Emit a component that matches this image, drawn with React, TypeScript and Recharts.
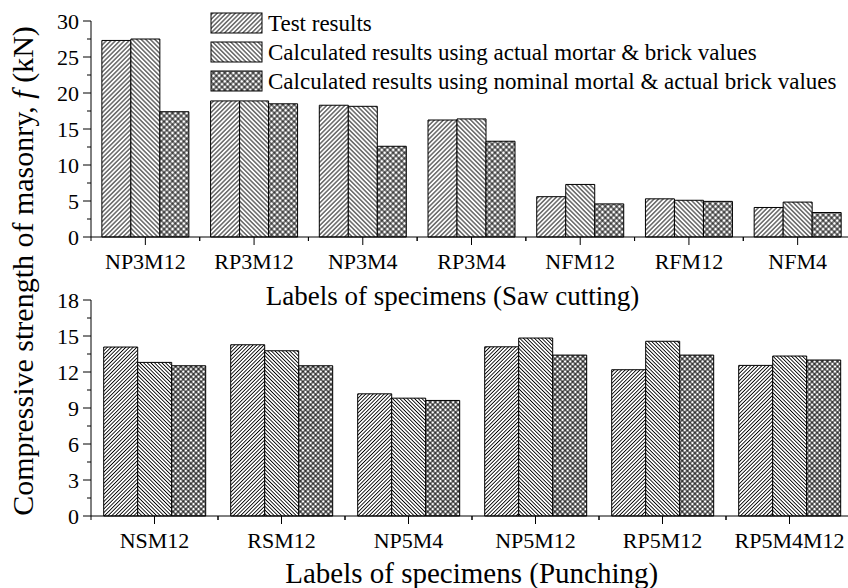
import React from 'react';
import { BarChart, Bar, XAxis, YAxis, Legend } from 'recharts';

const sawCategories = ['NP3M12', 'RP3M12', 'NP3M4', 'RP3M4', 'NFM12', 'RFM12', 'NFM4'];
const sawTest = [27.3, 18.9, 18.3, 16.25, 5.6, 5.3, 4.1];
const sawActual = [27.5, 18.9, 18.15, 16.4, 7.3, 5.1, 4.85];
const sawNominal = [17.4, 18.5, 12.6, 13.3, 4.6, 4.95, 3.4];
const sawTicks = [0, 2.5, 5, 7.5, 10, 12.5, 15, 17.5, 20, 22.5, 25, 27.5, 30];
const sawMajor = [0, 5, 10, 15, 20, 25, 30];

const punchCategories = ['NSM12', 'RSM12', 'NP5M4', 'NP5M12', 'RP5M12', 'RP5M4M12'];
const punchTest = [14.08, 14.27, 10.18, 14.1, 12.19, 12.55];
const punchActual = [12.8, 13.77, 9.82, 14.83, 14.56, 13.33];
const punchNominal = [12.52, 12.52, 9.63, 13.41, 13.41, 13.0];
const punchTicks = [0, 1.5, 3, 4.5, 6, 7.5, 9, 10.5, 12, 13.5, 15, 16.5, 18];
const punchMajor = [0, 3, 6, 9, 12, 15, 18];

const seriesNames = [
  'Test results',
  'Calculated results using actual mortar & brick values',
  'Calculated results using nominal mortal & actual brick values',
];
const patternKeys = ['fwd', 'back', 'cross'];

const sawData = sawCategories.map((c, i) => ({
  name: c,
  test: sawTest[i],
  actual: sawActual[i],
  nominal: sawNominal[i],
}));
const punchData = punchCategories.map((c, i) => ({
  name: c,
  test: punchTest[i],
  actual: punchActual[i],
  nominal: punchNominal[i],
}));

const FONT = '"Liberation Serif", "Times New Roman", Times, serif';

const Patterns = ({ prefix, s, c }: { prefix: string; s: number; c: number }) => (
  <defs>
    <pattern id={`${prefix}-fwd`} patternUnits="userSpaceOnUse" width={s} height={s} patternTransform="rotate(45)">
      <rect width={s} height={s} fill="#fff" />
      <line x1={s / 2} y1={0} x2={s / 2} y2={s} stroke="#000" strokeWidth={0.9} />
    </pattern>
    <pattern id={`${prefix}-back`} patternUnits="userSpaceOnUse" width={s} height={s} patternTransform="rotate(-45)">
      <rect width={s} height={s} fill="#fff" />
      <line x1={s / 2} y1={0} x2={s / 2} y2={s} stroke="#000" strokeWidth={0.9} />
    </pattern>
    <pattern id={`${prefix}-cross`} patternUnits="userSpaceOnUse" width={c} height={c} patternTransform="rotate(45)">
      <rect width={c} height={c} fill="#fff" />
      <line x1={c / 2} y1={0} x2={c / 2} y2={c} stroke="#000" strokeWidth={1} />
      <line x1={0} y1={c / 2} x2={c} y2={c / 2} stroke="#000" strokeWidth={1} />
    </pattern>
  </defs>
);

const TICK_SIZE = 8;
const TICK_MARGIN = 8;
const Y_TICK_SIZE = 8;
const Y_TICK_MARGIN = 4;

const makeXTick = (bandWidth: number) => (props: any) => {
  const { x, y, payload } = props;
  const axisY = y - TICK_SIZE - TICK_MARGIN;
  return (
    <g>
      <line x1={x} y1={axisY} x2={x} y2={axisY + TICK_SIZE} stroke="#000" strokeWidth={1} />
      <line x1={x - bandWidth / 2} y1={axisY} x2={x - bandWidth / 2} y2={axisY + 4} stroke="#000" strokeWidth={1} />
      <line x1={x + bandWidth / 2} y1={axisY} x2={x + bandWidth / 2} y2={axisY + 4} stroke="#000" strokeWidth={1} />
      <text x={x} y={y} dy="0.71em" textAnchor="middle" fontSize={22} fontFamily={FONT} fill="#000">
        {payload.value}
      </text>
    </g>
  );
};

const makeYTick = (major: number[]) => (props: any) => {
  const { x, y, payload } = props;
  const axisX = x + Y_TICK_SIZE + Y_TICK_MARGIN;
  const isMajor = major.includes(payload.value);
  return (
    <g>
      <line x1={axisX - (isMajor ? Y_TICK_SIZE : 4)} y1={y} x2={axisX} y2={y} stroke="#000" strokeWidth={1} />
      {isMajor && (
        <text x={x} y={y} dy="0.355em" textAnchor="end" fontSize={22} fontFamily={FONT} fill="#000">
          {payload.value}
        </text>
      )}
    </g>
  );
};

const renderLegend = () => (
  <svg width={640} height={95} style={{ display: 'block' }}>
    <Patterns prefix="lg" s={3.2} c={4} />
    {seriesNames.map((n, i) => (
      <g key={n}>
        <rect x={6} y={8 + i * 29} width={51} height={20} fill={`url(#lg-${patternKeys[i]})`} stroke="#000" strokeWidth={1} />
        <text x={63} y={26 + i * 29} fontSize={23} fontFamily={FONT} fill="#000">
          {n}
        </text>
      </g>
    ))}
  </svg>
);

const barProps = { stroke: '#000', strokeWidth: 1, isAnimationActive: false };

export default function App() {
  return (
    <div style={{ position: 'fixed', left: 0, top: 0, width: 848, height: 588, overflow: 'hidden', background: '#fff' }}>
      <div style={{ position: 'absolute', left: 0, top: 0 }}>
        <BarChart
          width={860}
          height={277}
          data={sawData}
          margin={{ top: 21, right: 8, left: 0, bottom: 0 }}
          barCategoryGap="10%"
          barGap={0}
        >
          <Patterns prefix="top" s={3.2} c={4} />
          <XAxis
            dataKey="name"
            height={40}
            interval={0}
            tickLine={false}
            tickSize={TICK_SIZE}
            tickMargin={TICK_MARGIN}
            tick={makeXTick(761 / 7)}
            axisLine={{ stroke: '#000', strokeWidth: 1 }}
          />
          <YAxis
            width={91}
            domain={[0, 30]}
            ticks={sawTicks}
            interval={0}
            tickLine={false}
            tickSize={Y_TICK_SIZE}
            tickMargin={Y_TICK_MARGIN}
            tick={makeYTick(sawMajor)}
            axisLine={{ stroke: '#000', strokeWidth: 1 }}
          />
          <Legend
            layout="vertical"
            align="center"
            verticalAlign="middle"
            content={renderLegend}
            wrapperStyle={{ position: 'absolute', left: 205, top: 5, width: 640, height: 95 }}
          />
          <Bar dataKey="test" name={seriesNames[0]} fill="url(#top-fwd)" {...barProps} />
          <Bar dataKey="actual" name={seriesNames[1]} fill="url(#top-back)" {...barProps} />
          <Bar dataKey="nominal" name={seriesNames[2]} fill="url(#top-cross)" {...barProps} />
        </BarChart>
      </div>
      <div style={{ position: 'absolute', left: 0, top: 280 }}>
        <BarChart
          width={860}
          height={276}
          data={punchData}
          margin={{ top: 20, right: 7, left: 0, bottom: 0 }}
          barCategoryGap="10%"
          barGap={0}
        >
          <Patterns prefix="bot" s={2.6} c={3.6} />
          <XAxis
            dataKey="name"
            height={40}
            interval={0}
            tickLine={false}
            tickSize={TICK_SIZE}
            tickMargin={TICK_MARGIN}
            tick={makeXTick(762 / 6)}
            axisLine={{ stroke: '#000', strokeWidth: 1 }}
          />
          <YAxis
            width={91}
            domain={[0, 18]}
            ticks={punchTicks}
            interval={0}
            tickLine={false}
            tickSize={Y_TICK_SIZE}
            tickMargin={Y_TICK_MARGIN}
            tick={makeYTick(punchMajor)}
            axisLine={{ stroke: '#000', strokeWidth: 1 }}
          />
          <Bar dataKey="test" name={seriesNames[0]} fill="url(#bot-fwd)" {...barProps} />
          <Bar dataKey="actual" name={seriesNames[1]} fill="url(#bot-back)" {...barProps} />
          <Bar dataKey="nominal" name={seriesNames[2]} fill="url(#bot-cross)" {...barProps} />
        </BarChart>
      </div>
      <svg width={848} height={588} style={{ position: 'absolute', left: 0, top: 0, pointerEvents: 'none' }}>
        <text x={33} y={271} transform="rotate(-90, 33, 271)" textAnchor="middle" fontSize={30} fontFamily={FONT} fill="#000">
          Compressive strength of masonry, <tspan fontStyle="italic">f</tspan> (kN)
        </text>
        <text x={452.5} y={305} textAnchor="middle" fontSize={27} fontFamily={FONT} fill="#000">
          Labels of specimens (Saw cutting)
        </text>
        <text x={471.7} y={583} textAnchor="middle" fontSize={29} fontFamily={FONT} fill="#000">
          Labels of specimens (Punching)
        </text>
      </svg>
    </div>
  );
}
